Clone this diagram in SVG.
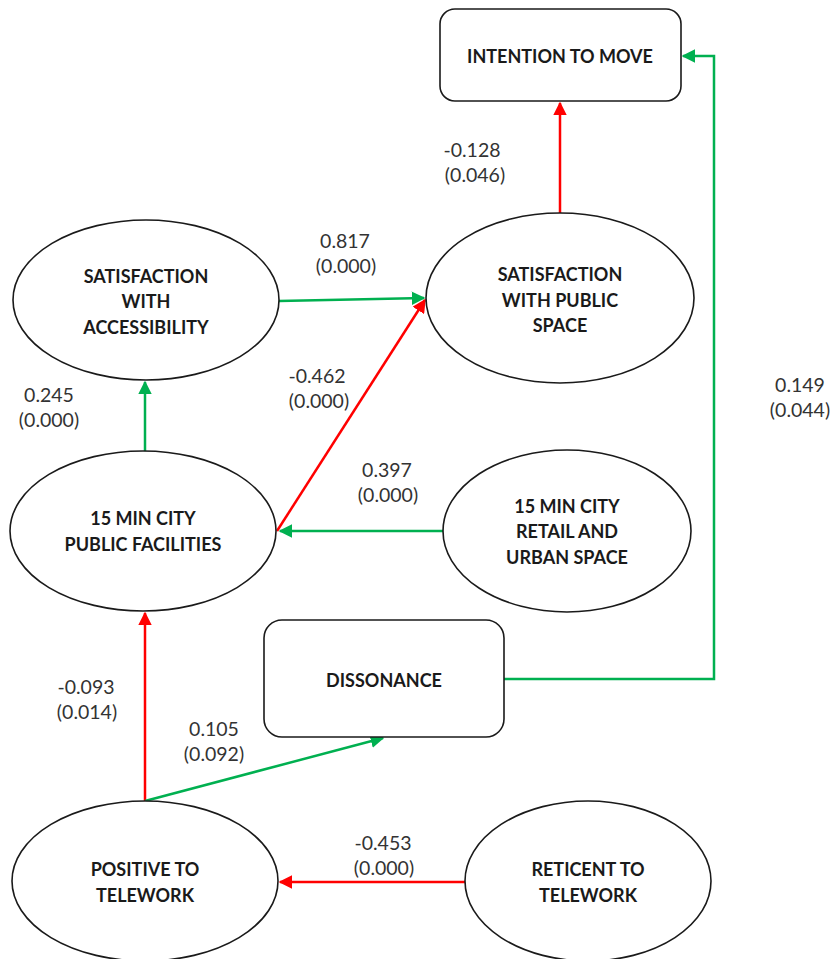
<svg xmlns="http://www.w3.org/2000/svg" width="833" height="959" viewBox="0 0 833 959">
<defs>
<style>
.node{fill:#fff;stroke:#1a1a1a;stroke-width:1.6}
.lbl{font-family:Lato,"Liberation Sans",sans-serif;font-weight:bold;font-size:18px;fill:#1a1a1a;text-anchor:middle}
.num{font-family:Lato,"Liberation Sans",sans-serif;font-size:19.5px;fill:#333;text-anchor:middle}
.g{stroke:#00B050;stroke-width:2.5;fill:none}
.r{stroke:#FF0000;stroke-width:2.5;fill:none}
</style>
<marker id="ag" viewBox="0 0 10 10" refX="9" refY="5" markerWidth="5.5" markerHeight="5.5" orient="auto" markerUnits="strokeWidth"><path d="M0,0 L10,5 L0,10 z" fill="#00B050"/></marker>
<marker id="ar" viewBox="0 0 10 10" refX="9" refY="5" markerWidth="5.5" markerHeight="5.5" orient="auto" markerUnits="strokeWidth"><path d="M0,0 L10,5 L0,10 z" fill="#FF0000"/></marker>
</defs>
<rect width="833" height="959" fill="#fff"/>
<g id="connectors">
<line class="r" x1="560" y1="213" x2="560" y2="103" marker-end="url(#ar)"/>
<polyline class="g" points="504,679 714,679 714,56 683,56" marker-end="url(#ag)"/>
<line class="g" x1="279" y1="301" x2="424" y2="298" marker-end="url(#ag)"/>
<line class="r" x1="277" y1="531" x2="425" y2="300" marker-end="url(#ar)"/>
<line class="g" x1="443" y1="531" x2="280" y2="531" marker-end="url(#ag)"/>
<line class="g" x1="145" y1="451" x2="145" y2="382" marker-end="url(#ag)"/>
<line class="r" x1="145" y1="801" x2="145" y2="613" marker-end="url(#ar)"/>
<line class="g" x1="145" y1="801" x2="383" y2="738" marker-end="url(#ag)"/>
<line class="r" x1="465" y1="882" x2="280" y2="882" marker-end="url(#ar)"/>
</g>
<g id="intention">
<rect class="node" x="440" y="9" width="241" height="92" rx="15"/>
<text class="lbl" x="560" y="63">INTENTION TO MOVE</text>
</g>
<g id="sat-access">
<ellipse class="node" cx="146" cy="300" rx="133" ry="80"/>
<text class="lbl" x="146" y="283">SATISFACTION</text>
<text class="lbl" x="146" y="308">WITH</text>
<text class="lbl" x="146" y="334">ACCESSIBILITY</text>
</g>
<g id="sat-public">
<ellipse class="node" cx="560" cy="298" rx="134" ry="85"/>
<text class="lbl" x="560" y="281">SATISFACTION</text>
<text class="lbl" x="560" y="307">WITH PUBLIC</text>
<text class="lbl" x="560" y="332">SPACE</text>
</g>
<g id="public-facilities">
<ellipse class="node" cx="143" cy="531" rx="133" ry="80"/>
<text class="lbl" x="143" y="525">15 MIN CITY</text>
<text class="lbl" x="143" y="551">PUBLIC FACILITIES</text>
</g>
<g id="retail">
<ellipse class="node" cx="567" cy="531" rx="124" ry="81"/>
<text class="lbl" x="567" y="513">15 MIN CITY</text>
<text class="lbl" x="567" y="538">RETAIL AND</text>
<text class="lbl" x="567" y="564">URBAN SPACE</text>
</g>
<g id="dissonance">
<rect class="node" x="264" y="620" width="240" height="117" rx="18"/>
<text class="lbl" x="384" y="687">DISSONANCE</text>
</g>
<g id="positive">
<ellipse class="node" cx="145" cy="881" rx="133" ry="80"/>
<text class="lbl" x="145" y="876">POSITIVE TO</text>
<text class="lbl" x="145" y="902">TELEWORK</text>
</g>
<g id="reticent">
<ellipse class="node" cx="588" cy="881" rx="123" ry="80"/>
<text class="lbl" x="588" y="876">RETICENT TO</text>
<text class="lbl" x="588" y="902">TELEWORK</text>
</g>
<g id="labels">
<text class="num" x="472" y="157">-0.128</text>
<text class="num" x="475" y="182">(0.046)</text>
<text class="num" x="345" y="248">0.817</text>
<text class="num" x="346" y="273">(0.000)</text>
<text class="num" x="49" y="402">0.245</text>
<text class="num" x="49" y="427">(0.000)</text>
<text class="num" x="317" y="383">-0.462</text>
<text class="num" x="319" y="408">(0.000)</text>
<text class="num" x="800" y="392">0.149</text>
<text class="num" x="800" y="417">(0.044)</text>
<text class="num" x="387" y="477">0.397</text>
<text class="num" x="388" y="502">(0.000)</text>
<text class="num" x="86" y="694">-0.093</text>
<text class="num" x="87" y="719">(0.014)</text>
<text class="num" x="214" y="736">0.105</text>
<text class="num" x="214" y="761">(0.092)</text>
<text class="num" x="383" y="850">-0.453</text>
<text class="num" x="384" y="875">(0.000)</text>
</g>
</svg>
